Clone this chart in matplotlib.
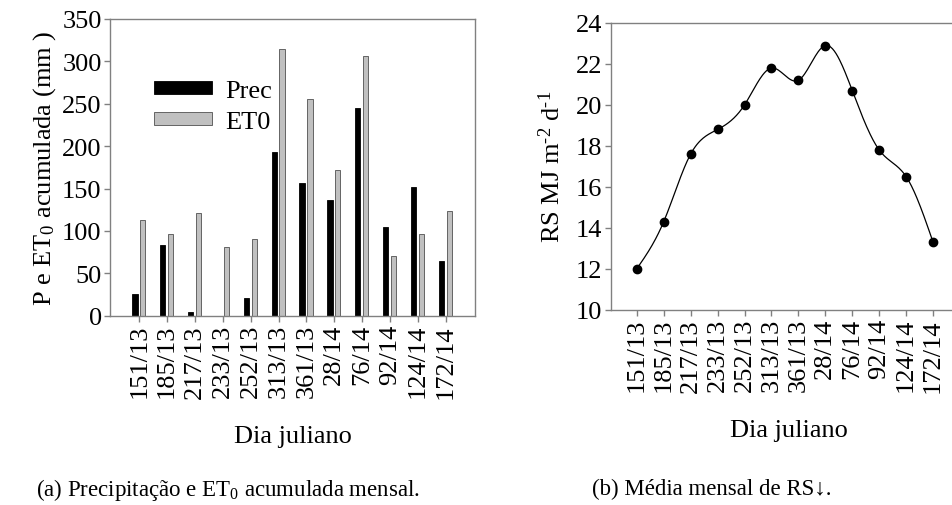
import numpy as np
import matplotlib
matplotlib.use("Agg")
import matplotlib.pyplot as plt

plt.rcParams['font.family'] = ['Liberation Serif', 'DejaVu Serif']
plt.rcParams['mathtext.fontset'] = 'custom'
plt.rcParams['mathtext.rm'] = 'Liberation Serif'
plt.rcParams['mathtext.it'] = 'Liberation Serif:italic'

days = ["151/13", "185/13", "217/13", "233/13", "252/13", "313/13", "361/13",
        "28/14", "76/14", "92/14", "124/14", "172/14"]
prec = [26, 83, 5, 0, 21, 193, 157, 136, 245, 105, 152, 65]
et0 = [113, 96, 121, 81, 90, 314, 256, 172, 306, 70, 96, 124]
rs = [12.0, 14.3, 17.6, 18.8, 20.0, 21.8, 21.2, 22.9, 20.7, 17.8, 16.5, 13.3]

FS = 19
CAP_FS = 16.5
SPINE = '#808080'

fig = plt.figure(figsize=(9.53, 5.06), dpi=100)

def style(ax):
    for s in ax.spines.values():
        s.set_color(SPINE)
        s.set_linewidth(1.0)
    ax.tick_params(axis='both', direction='out', length=4, width=1,
                   color=SPINE, labelsize=FS, pad=2)
    ax.tick_params(axis='x', labelrotation=90)

# ---- left panel
ax1 = fig.add_axes([0.1154, 0.374, 0.383, 0.5866])
x = np.arange(len(days))
w = 0.19
ax1.bar(x - 0.155, prec, w, color='black', edgecolor='black', linewidth=0.6, label='Prec')
ax1.bar(x + 0.125, et0, w, color='#c0c0c0', edgecolor='#505050', linewidth=0.6, label='ET0')
ax1.set_xlim(-1.05, 12.05)
ax1.set_ylim(0, 350)
ax1.set_yticks(np.arange(0, 351, 50))
ax1.set_xticks(x)
ax1.set_xticklabels(days)
style(ax1)
ax1.set_ylabel(r'P e ET$_0$ acumulada (mm )', fontsize=FS, labelpad=3)
ax1.set_xlabel('Dia juliano', fontsize=FS, labelpad=20)
ax1.legend(loc='upper left', bbox_to_anchor=(0.085, 0.84), frameon=False,
           fontsize=FS, handlelength=2.2, handleheight=0.4,
           handletextpad=0.5, labelspacing=0.35, borderpad=0)

# ---- right panel
ax2 = fig.add_axes([0.6408, 0.386, 0.375, 0.5666])
xr = np.arange(len(rs), dtype=float)
yr = np.array(rs)

# natural cubic spline through the data points for the smooth line
n = len(xr)
h = np.diff(xr)
A = np.zeros((n, n))
b = np.zeros(n)
A[0, 0] = A[-1, -1] = 1
for i in range(1, n - 1):
    A[i, i - 1] = h[i - 1]
    A[i, i] = 2 * (h[i - 1] + h[i])
    A[i, i + 1] = h[i]
    b[i] = 3 * ((yr[i + 1] - yr[i]) / h[i] - (yr[i] - yr[i - 1]) / h[i - 1])
c = np.linalg.solve(A, b)
xs, ys = [], []
for i in range(n - 1):
    bi = (yr[i + 1] - yr[i]) / h[i] - h[i] * (2 * c[i] + c[i + 1]) / 3
    di = (c[i + 1] - c[i]) / (3 * h[i])
    t = np.linspace(0, h[i], 30, endpoint=False)
    xs.append(xr[i] + t)
    ys.append(yr[i] + bi * t + c[i] * t ** 2 + di * t ** 3)
xs.append([xr[-1]]); ys.append([yr[-1]])
ax2.plot(np.concatenate(xs), np.concatenate(ys), color='black', linewidth=0.9)
ax2.plot(xr, yr, 'o', color='black', markersize=6)
ax2.set_xlim(-0.97, 12.3)
ax2.set_ylim(10, 24)
ax2.set_yticks(np.arange(10, 25, 2))
ax2.set_xticks(xr)
ax2.set_xticklabels(days)
style(ax2)
ax2.set_ylabel(r'RS MJ m$^{\text{-2}}$ d$^{\text{-1}}$', fontsize=FS, labelpad=8)
ax2.set_xlabel('Dia juliano', fontsize=FS, labelpad=20)

fig.text(0.239, 0.032, r'(a) Precipitação e ET$_0$ acumulada mensal.', fontsize=CAP_FS,
         ha='center', va='center')
fig.text(0.747, 0.032, '(b) Média mensal de RS↓.', fontsize=CAP_FS,
         ha='center', va='center')

fig.savefig('out.png', dpi=100)
